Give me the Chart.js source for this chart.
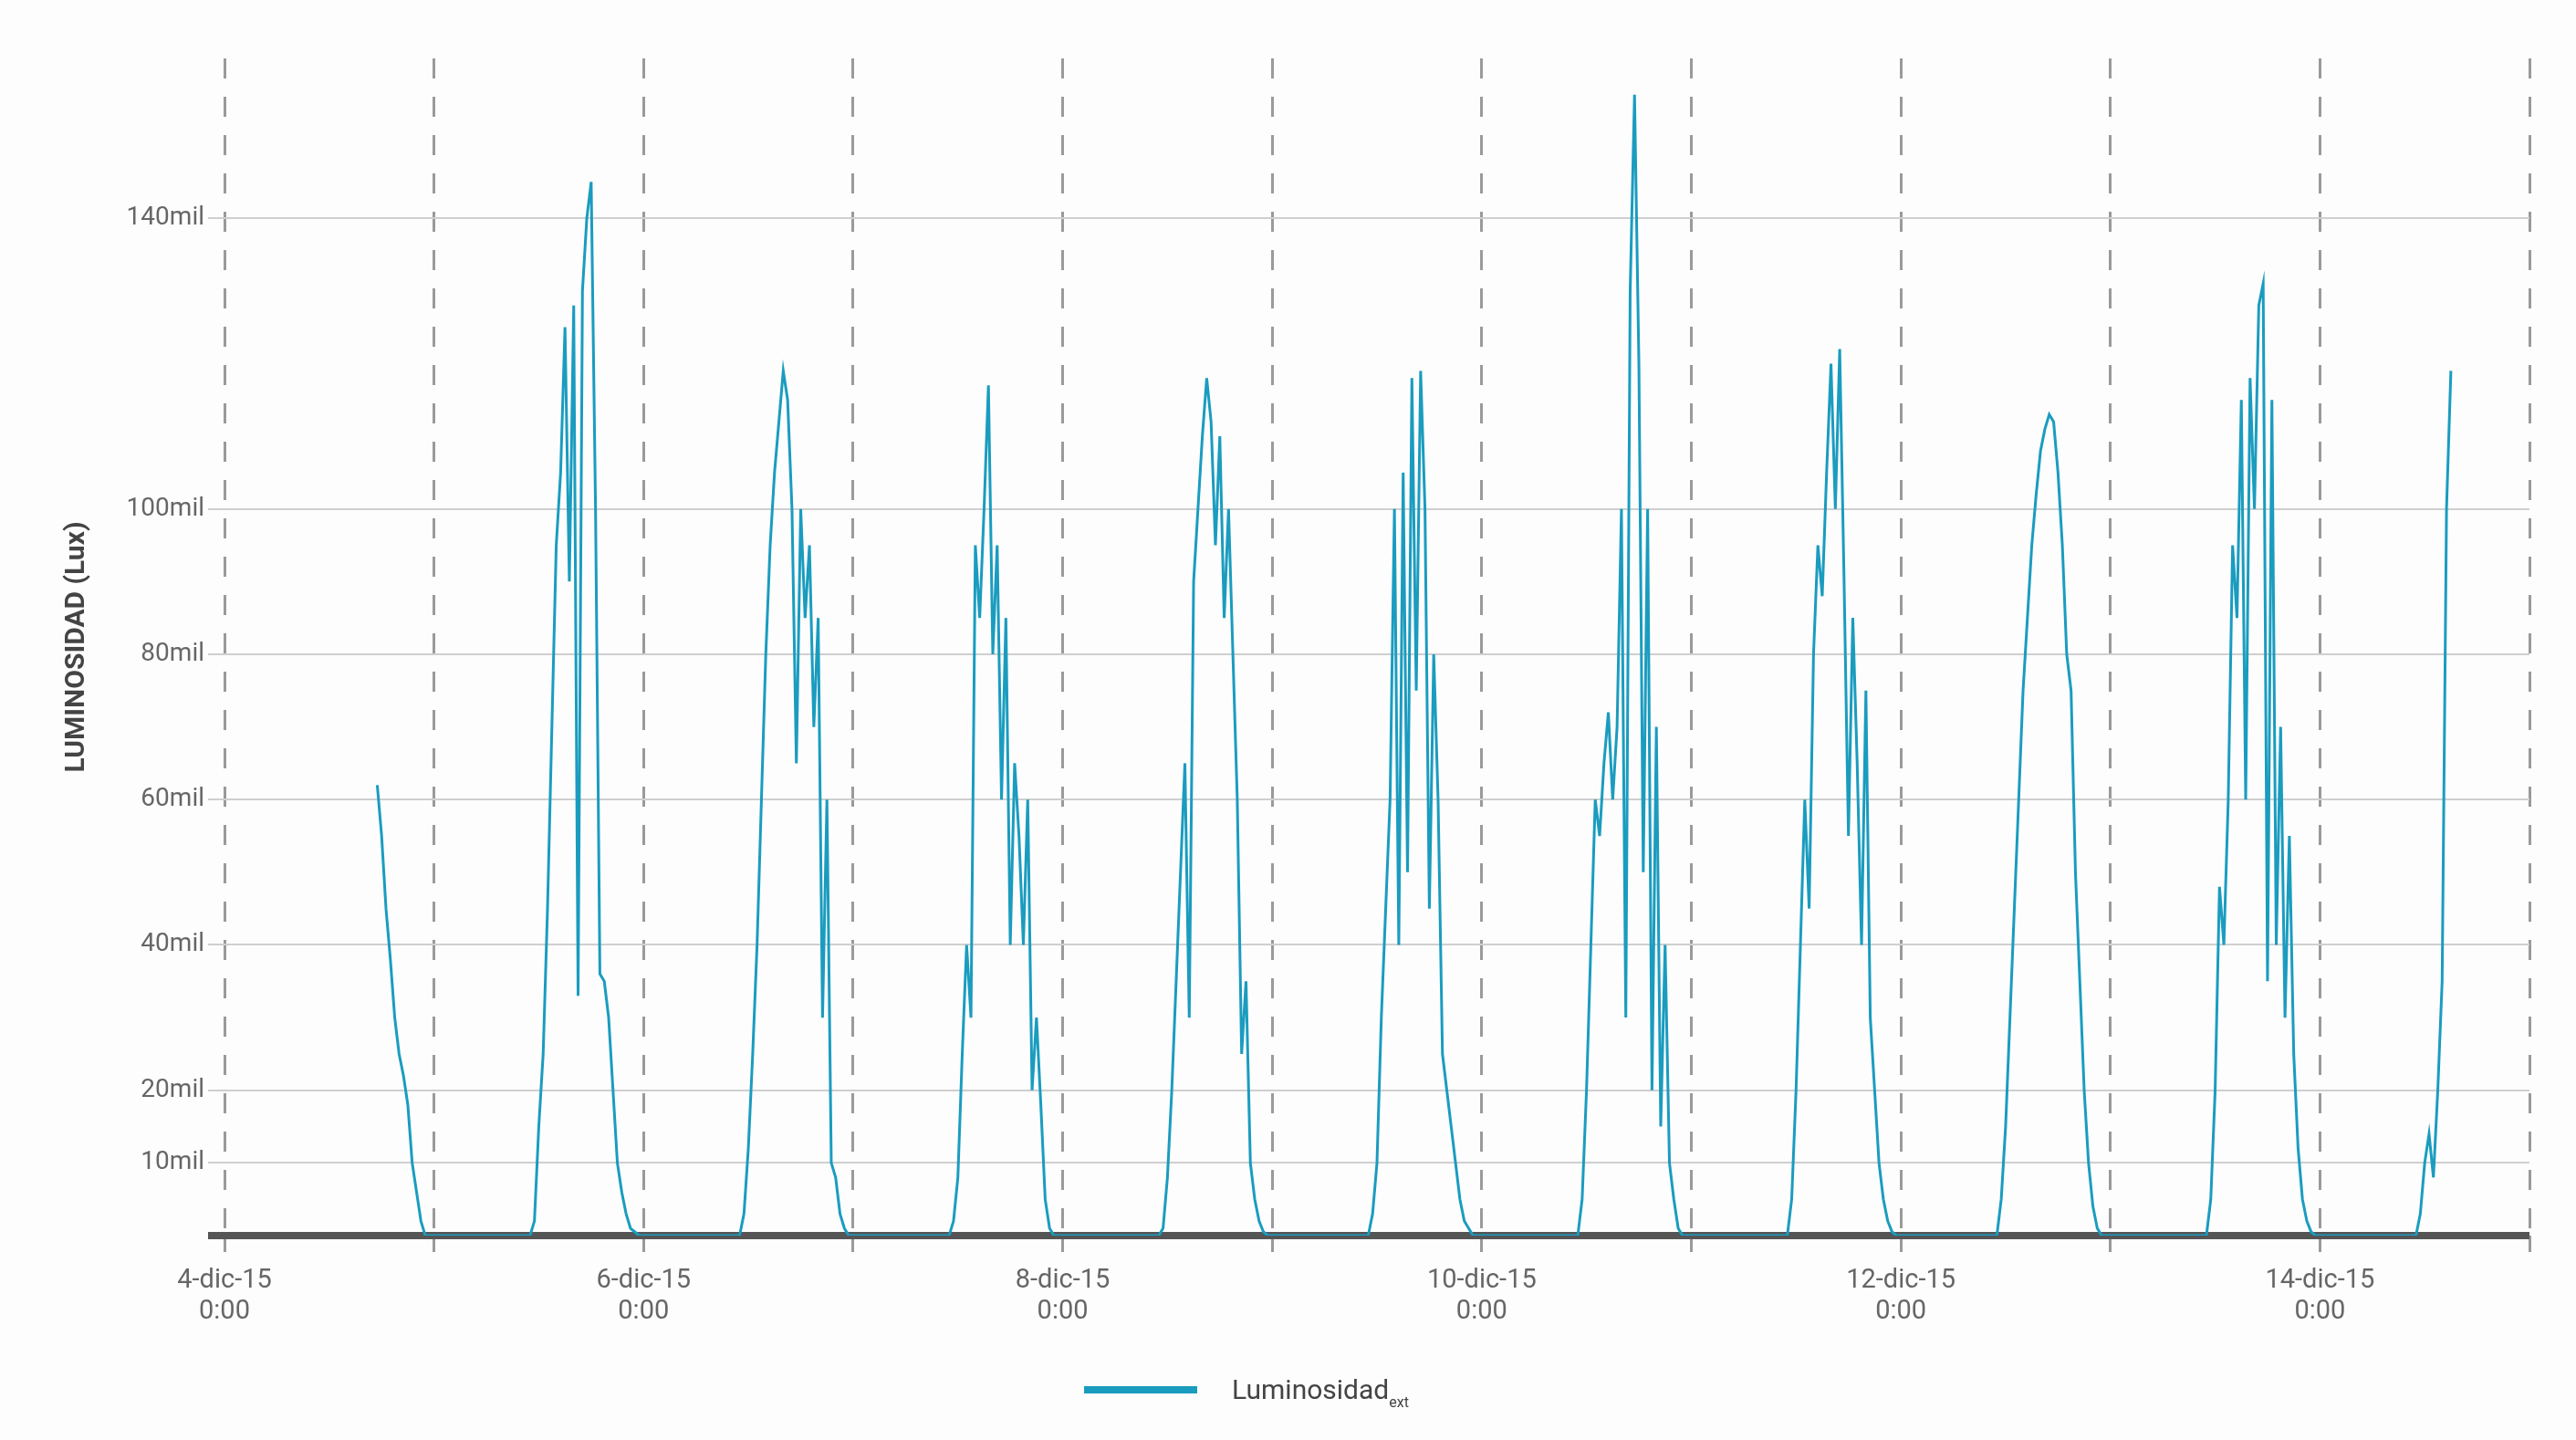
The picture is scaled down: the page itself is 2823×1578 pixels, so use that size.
<!DOCTYPE html>
<html><head><meta charset="utf-8">
<script src="https://cdn.jsdelivr.net/npm/chart.js@4/dist/chart.umd.min.js"></script>
<style>
html,body{margin:0;padding:0;background:#fdfdfd;}
#wrap{position:relative;width:2823px;height:1578px;}
#leg{position:absolute;left:1188px;top:1505px;font-family:Roboto,Arial,sans-serif;font-size:30px;color:#444;display:flex;align-items:center;}
#leg span.l{display:inline-block;width:124px;height:8px;background:#1a9cbf;margin-right:38px;}
#leg sub{font-size:16px;position:relative;top:14px;vertical-align:baseline;}
</style></head><body>
<div id="wrap"><canvas id="c" width="2823" height="1578"></canvas>
<div id="leg"><span class="l"></span>Luminosidad<sub>ext</sub></div></div>
<script>
// hours since 4-dic-15 0:00
const dayHours = [11,11.5,12,12.5,13,13.5,14,14.5,15,15.5,16,16.5,17,17.5,18,18.5,19,19.5,20,20.5,21,21.5,22,22.5,23,23.5,24];
const dec4Hours = [17.5,18,18.5,19,19.5,20,20.5,21,21.5,22,22.5,23,23.5,24];
const dec4 = [62000,55000,45000,38000,30000,25000,22000,18000,10000,6000,2000,0,0,0];
const dec5 = [0,2000,15000,25000,45000,70000,95000,105000,125000,90000,128000,33000,130000,140000,145000,100000,36000,35000,30000,20000,10000,6000,3000,1000,500,0,0];
const dec6 = [0,3000,12000,25000,40000,60000,80000,95000,105000,112000,119000,115000,100000,65000,100000,85000,95000,70000,85000,30000,60000,10000,8000,3000,1000,0,0];
const dec7 = [0,2000,8000,25000,40000,30000,95000,85000,100000,117000,80000,95000,60000,85000,40000,65000,55000,40000,60000,20000,30000,18000,5000,1000,0,0,0];
const dec8 = [0,1000,8000,20000,35000,50000,65000,30000,90000,100000,110000,118000,112000,95000,110000,85000,100000,80000,60000,25000,35000,10000,5000,2000,500,0,0];
const dec9 = [0,3000,10000,30000,45000,60000,100000,40000,105000,50000,118000,75000,119000,100000,45000,80000,60000,25000,20000,15000,10000,5000,2000,1000,0,0,0];
const dec10 = [0,5000,20000,40000,60000,55000,65000,72000,60000,70000,100000,30000,130000,157000,120000,50000,100000,20000,70000,15000,40000,10000,5000,1000,0,0,0];
const dec11 = [0,5000,20000,40000,60000,45000,80000,95000,88000,105000,120000,100000,122000,90000,55000,85000,65000,40000,75000,30000,20000,10000,5000,2000,500,0,0];
const dec12 = [0,5000,15000,30000,45000,60000,75000,85000,95000,102000,108000,111000,113000,112000,105000,95000,80000,75000,50000,35000,20000,10000,4000,1000,0,0,0];
const dec13 = [0,5000,20000,48000,40000,60000,95000,85000,115000,60000,118000,100000,128000,131000,35000,115000,40000,70000,30000,55000,25000,12000,5000,2000,500,0,0];
const dec14 = [0,3000,10000,14000,8000,20000,35000,100000,119000];
const yTicks = [0,10000,20000,40000,60000,80000,100000,140000];
const xLabels = {0:['4-dic-15','0:00'],48:['6-dic-15','0:00'],96:['8-dic-15','0:00'],144:['10-dic-15','0:00'],192:['12-dic-15','0:00'],240:['14-dic-15','0:00']};

const pts = [];
dec4Hours.forEach((h,i)=>pts.push({x:h,y:dec4[i]}));
[dec5,dec6,dec7,dec8,dec9,dec10,dec11,dec12,dec13,dec14].forEach((arr,d)=>{
  arr.forEach((v,i)=>pts.push({x:(d+1)*24+dayHours[i],y:v}));
});

new Chart(document.getElementById('c'),{
  type:'line',
  data:{datasets:[{data:pts,borderColor:'#1a9cbf',borderWidth:3,pointRadius:0,tension:0,fill:false}]},
  options:{
    responsive:false,animation:false,
    layout:{padding:{top:64,right:51,left:62,bottom:0}},
    plugins:{legend:{display:false},tooltip:{enabled:false}},
    scales:{
      x:{type:'linear',min:0,max:264,
        afterBuildTicks:s=>{s.ticks=[];for(let h=0;h<=264;h+=24)s.ticks.push({value:h});},
        afterFit:s=>{s.height=224;},
        border:{display:false,dash:[22,20]},
        grid:{color:'#9a9a9a',lineWidth:3,tickLength:18},
        ticks:{autoSkip:false,maxRotation:0,padding:14,color:'#666',font:{family:'Roboto',size:29},callback:v=>xLabels[v]||''}
      },
      y:{min:0,max:162000,
        afterBuildTicks:s=>{s.ticks=yTicks.map(v=>({value:v}));},
        afterFit:s=>{s.width=184;},
        border:{display:false},
        grid:{color:c=>c.tick&&c.tick.value===0?'#555':'#cfcfcf',lineWidth:c=>c.tick&&c.tick.value===0?8:2,tickLength:18},
        ticks:{padding:4,color:'#666',font:{family:'Roboto',size:28},callback:v=>v===0?'':(v/1000)+'mil'},
        title:{display:true,text:'LUMINOSIDAD (Lux)',color:'#444',font:{family:'Roboto',size:30,weight:'bold'},padding:{bottom:0}}
      }
    }
  }
});
</script></body></html>
